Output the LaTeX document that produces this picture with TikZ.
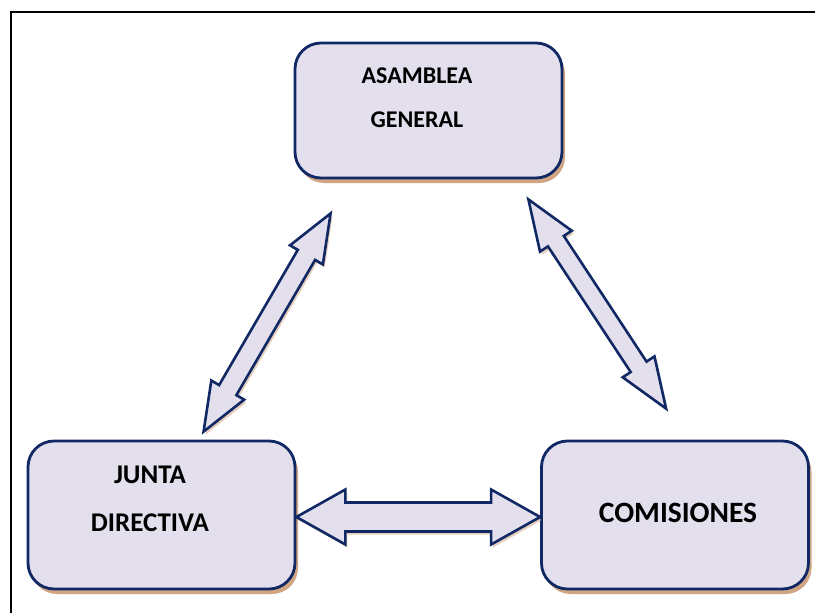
\documentclass[tikz,border=0pt]{standalone}
\usepackage{fontspec}
\setmainfont{Carlito}
\usetikzlibrary{calc,shadows}
\definecolor{boxfill}{RGB}{228,223,236}
\definecolor{navy}{RGB}{16,40,100}
\definecolor{shadowc}{RGB}{200,150,110}
\tikzset{
  box/.style={draw=navy, line width=2.8pt, fill=boxfill, rounded corners=26pt,
    minimum width=267pt, minimum height=#1, inner sep=0pt,
    drop shadow={shadow xshift=3pt, shadow yshift=-5pt, fill=shadowc, opacity=0.85}},
  arr/.style={draw=navy, line width=2.6pt, fill=boxfill, line join=miter,
    drop shadow={shadow xshift=2pt, shadow yshift=-3pt, fill=shadowc, opacity=0.45}},
  lblA/.style={font=\fontsize{24}{28}\selectfont\bfseries, inner sep=0pt},
  lblJ/.style={font=\fontsize{27}{32}\selectfont\bfseries, inner sep=0pt},
  lblC/.style={font=\fontsize{29.5}{34}\selectfont\bfseries, inner sep=0pt},
  frame/.style={draw=black, line width=2pt}
}
\newcommand{\dblarrow}[5]{%
  \coordinate (#1-h) at ($(#1)!#3!(#2)$);
  \coordinate (#2-h) at ($(#2)!#3!(#1)$);
  \draw[arr] (#1) -- ($(#1-h)!#4!90:(#2)$) -- ($(#1-h)!#5!90:(#2)$)
    -- ($(#2-h)!#5!-90:(#1)$) -- ($(#2-h)!#4!-90:(#1)$) -- (#2)
    -- ($(#2-h)!#4!90:(#1)$) -- ($(#2-h)!#5!90:(#1)$)
    -- ($(#1-h)!#5!-90:(#2)$) -- ($(#1-h)!#4!-90:(#2)$) -- cycle;}
\begin{document}
\begin{tikzpicture}[x=1pt, y=-1pt]
\useasboundingbox (0,0) rectangle (815,613);
\fill[white] (0,0) rectangle (815,613);
% frame
\coordinate (f1) at (11,613);
\coordinate (f2) at (11,12);
\coordinate (f3) at (815,12);
\draw[frame] (f1) -- (f2) -- (f3);
% boxes
\node[box=135pt] (asam) at (428.5,110.5) {};
\node[box=148pt] (junta) at (161.5,515) {};
\node[box=148pt] (com) at (675,515) {};
\node[lblC] (comtxt) at (678,513) {COMISIONES};
% labels
\node[lblA] (asam1) at (417,75.5) {ASAMBLEA};
\node[lblA] (asam2) at (417,119.5) {GENERAL};
\node[lblJ] (junta1) at (150,475) {JUNTA};
\node[lblJ] (junta2) at (150,523) {DIRECTIVA};
% arrow tips
\coordinate (ha) at ($(junta.east)+(0,2)$);
\coordinate (hb) at ($(com.west)+(0,2)$);
\coordinate (la) at ($(junta.north west)+(177,-8)$);
\coordinate (lb) at ($(asam.south west)+(37,34)$);
\coordinate (ra) at ($(asam.south east)+(-35,20)$);
\coordinate (rb) at ($(com.north west)+(126,-31)$);
\dblarrow{ha}{hb}{49pt}{27.5pt}{14.5pt}
\dblarrow{la}{lb}{48pt}{19pt}{10pt}
\dblarrow{ra}{rb}{50pt}{19pt}{9.5pt}
\end{tikzpicture}
\end{document}
